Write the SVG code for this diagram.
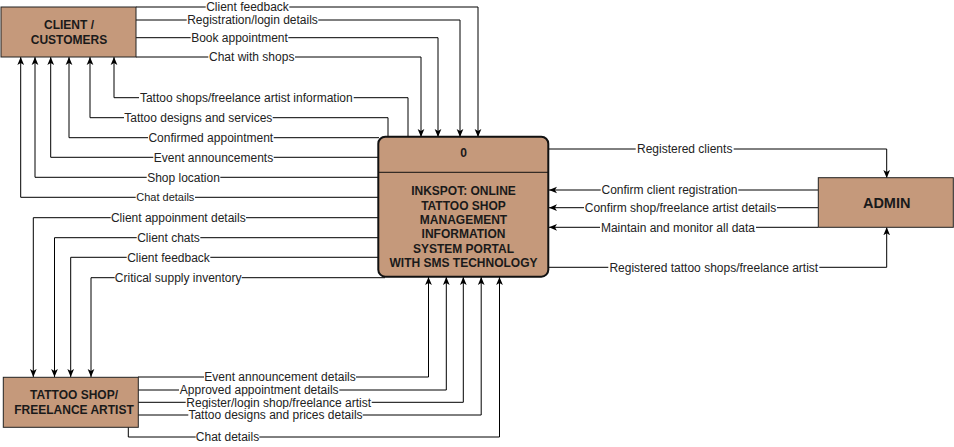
<svg xmlns="http://www.w3.org/2000/svg" width="954" height="447" viewBox="0 0 954 447">
<style>
.box{fill:#c5997b;stroke:#222;stroke-width:1}
.proc{fill:#c5997b;stroke:#111;stroke-width:2}
.bt{font-family:"Liberation Sans",Arial,sans-serif;font-weight:bold;font-size:12px;fill:#1a1a1a;text-anchor:middle}
.ln{fill:none;stroke:#000;stroke-width:1}
.arr{marker-end:url(#ah)}
.lb{font-family:"Liberation Sans",Arial,sans-serif;font-size:12px;fill:#222;text-anchor:middle}
.bg{fill:#fff}
</style>
<defs>
<marker id="ah" markerUnits="userSpaceOnUse" viewBox="0 0 10 10" refX="10" refY="5" markerWidth="8" markerHeight="8" orient="auto">
<path d="M0,0.8 L10,5 L0,9.2 L2.6,5 Z" fill="#000"/>
</marker>
</defs>
<rect width="954" height="447" fill="#fff"/>
<g id="connectors">
<path class="ln arr" d="M136,7 H478 V137"/>
<path class="ln arr" d="M136,20 H460 V137"/>
<path class="ln arr" d="M136,37.7 H438 V137"/>
<path class="ln arr" d="M136,57 H421 V137"/>
<path class="ln arr" d="M408,137 V97.7 H114 V57"/>
<path class="ln arr" d="M388,137 V117.7 H90 V57"/>
<path class="ln arr" d="M379,137.7 H69 V57"/>
<path class="ln arr" d="M378,157.3 H50.7 V57"/>
<path class="ln arr" d="M378,177.3 H35 V57"/>
<path class="ln arr" d="M378,197.3 H20.7 V57"/>
<path class="ln arr" d="M378,217.7 H33.3 V377"/>
<path class="ln arr" d="M378,237.7 H54.5 V377"/>
<path class="ln arr" d="M378,257.3 H70.7 V377"/>
<path class="ln arr" d="M385,277.7 H91 V377"/>
<path class="ln arr" d="M138,377 H428.5 V277"/>
<path class="ln arr" d="M138,390 H446.3 V277"/>
<path class="ln arr" d="M138,402.3 H463.3 V277"/>
<path class="ln arr" d="M138,415 H481.2 V277"/>
<path class="ln arr" d="M128.3,427 V437 H499.5 V277"/>
<path class="ln arr" d="M549,149 H886.7 V178"/>
<path class="ln arr" d="M818,190 H549"/>
<path class="ln arr" d="M818,207.7 H549"/>
<path class="ln arr" d="M818,227.3 H549"/>
<path class="ln arr" d="M549,267.3 H886.7 V227.3"/>
<g id="labels">
<rect class="bg" x="205.7" y="1" width="83.6" height="12"/><text class="lb" x="247.5" y="11">Client feedback</text>
<rect class="bg" x="186.7" y="14" width="131.6" height="12"/><text class="lb" x="252.5" y="24.2">Registration/login details</text>
<rect class="bg" x="190.7" y="31.7" width="97.6" height="12"/><text class="lb" x="239.5" y="41.9">Book appointment</text>
<rect class="bg" x="208.3" y="51" width="86.7" height="12"/><text class="lb" x="251.7" y="61.2">Chat with shops</text>
<rect class="bg" x="139" y="91.7" width="214.7" height="12"/><text class="lb" x="246.3" y="101.9">Tattoo shops/freelance artist information</text>
<rect class="bg" x="124" y="111.7" width="148.7" height="12"/><text class="lb" x="198.3" y="121.9">Tattoo designs and services</text>
<rect class="bg" x="148" y="131.7" width="125.7" height="12"/><text class="lb" x="210.8" y="141.9">Confirmed appointment</text>
<rect class="bg" x="153.3" y="151.3" width="120.4" height="12"/><text class="lb" x="213.5" y="161.5">Event announcements</text>
<rect class="bg" x="146.7" y="171.3" width="73.6" height="12"/><text class="lb" x="183.5" y="181.5">Shop location</text>
<rect class="bg" x="135.7" y="191.3" width="59.3" height="12"/><text class="lb" x="165.3" y="201.2" style="font-size:11px">Chat details</text>
<rect class="bg" x="110.7" y="211.7" width="135.3" height="12"/><text class="lb" x="178.3" y="221.9">Client appoinment details</text>
<rect class="bg" x="136.7" y="231.7" width="63.6" height="12"/><text class="lb" x="168.5" y="241.9">Client chats</text>
<rect class="bg" x="126.7" y="251.3" width="83.6" height="12"/><text class="lb" x="168.5" y="261.5">Client feedback</text>
<rect class="bg" x="114.7" y="271.7" width="127" height="12"/><text class="lb" x="178.2" y="281.9">Critical supply inventory</text>
<rect class="bg" x="204" y="371" width="152" height="12"/><text class="lb" x="280" y="381.2">Event announcement details</text>
<rect class="bg" x="179" y="384" width="160.3" height="12"/><text class="lb" x="259.2" y="394.2">Approved appointment details</text>
<rect class="bg" x="185.7" y="396.3" width="186" height="12"/><text class="lb" x="278.7" y="406.5">Register/login shop/freelance artist</text>
<rect class="bg" x="188.3" y="409" width="174.4" height="12"/><text class="lb" x="275.5" y="419.2">Tattoo designs and prices details</text>
<rect class="bg" x="195.7" y="431" width="63.6" height="12"/><text class="lb" x="227.5" y="441.2">Chat details</text>
<rect class="bg" x="635.7" y="143" width="98" height="12"/><text class="lb" x="684.7" y="153.2">Registered clients</text>
<rect class="bg" x="600.7" y="184" width="137.6" height="12"/><text class="lb" x="669.5" y="194.2">Confirm client registration</text>
<rect class="bg" x="584" y="201.7" width="193" height="12"/><text class="lb" x="680.5" y="211.9">Confirm shop/freelance artist details</text>
<rect class="bg" x="600" y="221.5" width="156" height="12"/><text class="lb" x="678" y="231.7">Maintain and monitor all data</text>
<rect class="bg" x="608.3" y="261.3" width="211" height="12"/><text class="lb" x="713.8" y="271.5">Registered tattoo shops/freelance artist</text>
</g>
</g>
<g id="client">
<rect class="box" x="1" y="7" width="135" height="50"/>
<text class="bt" x="69" y="29.3">CLIENT /</text>
<text class="bt" x="69" y="44.3">CUSTOMERS</text>
</g>
<g id="process">
<rect class="proc" x="378.3" y="136.7" width="170" height="140" rx="7" ry="7"/>
<line x1="378.3" y1="172.3" x2="548.3" y2="172.3" stroke="#111" stroke-width="1"/>
<text class="bt" x="463.5" y="157">0</text>
<text class="bt" x="463.5" y="195.3">INKSPOT: ONLINE</text>
<text class="bt" x="463.5" y="209.8">TATTOO SHOP</text>
<text class="bt" x="463.5" y="224.1">MANAGEMENT</text>
<text class="bt" x="463.5" y="238.3">INFORMATION</text>
<text class="bt" x="463.5" y="252.6">SYSTEM PORTAL</text>
<text class="bt" x="463.5" y="267">WITH SMS TECHNOLOGY</text>
</g>
<g id="admin">
<rect class="box" x="818.3" y="177.7" width="135" height="49.6"/>
<text class="bt" x="886.7" y="207.8" style="font-size:14.5px">ADMIN</text>
</g>
<g id="tattoo-shop">
<rect class="box" x="3.3" y="377.3" width="135" height="50"/>
<text class="bt" x="74" y="398.6">TATTOO SHOP/</text>
<text class="bt" x="74" y="413.6">FREELANCE ARTIST</text>
</g>
</svg>
